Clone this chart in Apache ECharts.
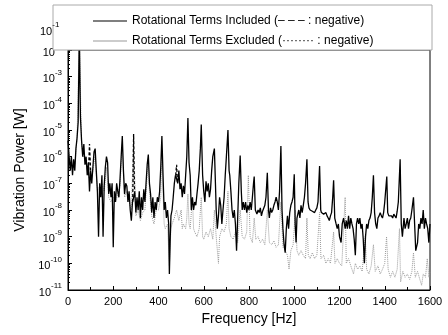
<!DOCTYPE html>
<html>
<head>
<meta charset="utf-8">
<script src="https://cdn.jsdelivr.net/npm/echarts@6/dist/echarts.min.js"></script>
<style>
  html, body { margin: 0; padding: 0; background: #fff; }
  #chart { width: 448px; height: 335px; }
</style>
</head>
<body>
<div id="chart"></div>
<script>
// rotational terms included (black)
const incFreq = [0, 5, 10, 15, 20, 25, 30, 35, 40, 45, 50, 55, 60, 65, 70, 75, 80, 85, 90, 95,
  100, 105, 110, 115, 120, 125, 130, 135, 140, 145, 150, 155, 160, 165, 170, 175, 180, 185, 190, 195,
  200, 205, 210, 215, 220, 225, 230, 235, 240, 245, 250, 255, 260, 265, 270, 275, 280, 285, 290, 295,
  300, 305, 310, 315, 320, 325, 330, 335, 340, 345, 350, 355, 360, 365, 370, 375, 380, 385, 390, 395,
  400, 405, 410, 415, 420, 425, 430, 435, 440, 445, 448, 452, 455, 460, 465, 470, 475, 480, 485, 490,
  495, 500, 505, 510, 515, 520, 525, 530, 535, 540, 545, 550, 555, 560, 565, 570, 575, 580, 585, 589,
  595, 600, 605, 610, 615, 620, 625, 630, 635, 640, 647, 652, 655, 660, 665, 670, 675, 680, 685, 690,
  695, 700, 707, 712, 715, 720, 725, 730, 735, 740, 745, 750, 755, 761, 766, 770, 775, 780, 785, 790,
  795, 800, 805, 810, 815, 820, 823, 828, 835, 840, 845, 850, 855, 860, 865, 870, 875, 881, 886, 890,
  895, 900, 905, 910, 915, 920, 925, 930, 935, 941, 946, 950, 955, 960, 965, 970, 975, 980, 985, 990,
  995, 1000, 1004, 1008, 1012, 1020, 1025, 1030, 1035, 1040, 1045, 1050, 1056, 1061, 1065, 1070, 1075, 1080, 1085, 1090,
  1095, 1100, 1105, 1112, 1117, 1120, 1125, 1130, 1135, 1140, 1145, 1150, 1155, 1160, 1165, 1170, 1174, 1179, 1185, 1190,
  1195, 1200, 1207, 1212, 1218, 1225, 1230, 1235, 1240, 1245, 1250, 1255, 1260, 1265, 1270, 1275, 1280, 1285, 1290, 1295,
  1300, 1305, 1310, 1315, 1320, 1325, 1330, 1335, 1340, 1345, 1350, 1355, 1360, 1365, 1370, 1375, 1380, 1385, 1390, 1395,
  1400, 1409, 1413, 1418, 1425, 1430, 1435, 1440, 1445, 1450, 1455, 1460, 1468, 1473, 1478, 1485, 1490, 1495, 1500, 1505,
  1510, 1515, 1520, 1527, 1532, 1537, 1545, 1550, 1555, 1560, 1565, 1570, 1575, 1580, 1585, 1590, 1595, 1600]
const incPower = [4e-6, 1e-6, 3e-7, 1e-6, 2e-7, 8e-7, 3e-7, 2e-6, 5e-6, 2e-5, 5e-2, 3e-5, 4e-6, 1e-6, 3e-6, 5e-7, 1e-6, 2e-7, 6e-7, 5e-8,
  3e-7, 1e-7, 4e-7, 1.5e-6, 2e-6, 3e-7, 5e-8, 1e-9, 1e-7, 3e-8, 2e-7, 1e-9, 8e-8, 4e-7, 1e-6, 6e-7, 4e-8, 1e-7, 3e-8, 1e-7,
  4e-10, 5e-8, 2e-8, 1e-7, 5e-8, 3e-8, 1.5e-7, 1e-6, 6e-6, 3e-7, 4e-8, 1e-7, 8e-8, 2e-8, 5e-8, 1e-8, 4e-9, 2e-8, 3e-8, 5e-8,
  8e-9, 3e-8, 1e-8, 5e-8, 5e-9, 3e-8, 1e-8, 6e-8, 2e-8, 1e-7, 5e-7, 1.2e-6, 1e-7, 4e-8, 8e-9, 3e-8, 5e-9, 2e-8, 1e-8, 3e-8,
  2e-8, 5e-8, 4e-7, 6e-6, 2e-7, 1e-8, 2e-8, 5e-9, 1e-8, 3e-9, 4e-11, 1e-9, 6e-9, 1e-8, 3e-8, 1e-7, 2e-7, 1.5e-7, 1e-7, 3e-7,
  6e-8, 1e-7, 3e-8, 8e-8, 4e-8, 2e-7, 1e-6, 2.8e-5, 6e-7, 2e-7, 1e-8, 3e-8, 1e-8, 2e-8, 1.5e-8, 4e-8, 1e-7, 3e-7, 2e-6, 1.6e-5,
  2e-7, 5e-8, 2e-8, 1.2e-7, 5e-8, 1e-7, 3e-8, 6e-8, 3e-7, 1e-6, 2e-6, 8e-8, 1e-8, 2e-9, 6e-9, 3e-8, 1.5e-8, 3e-9, 1e-8, 3e-8,
  2e-7, 1e-6, 1e-5, 3e-7, 2e-7, 5e-8, 1e-8, 5e-9, 1e-8, 3e-9, 3e-10, 5e-9, 1e-7, 1.1e-6, 5e-8, 1e-8, 2e-8, 1e-8, 2e-8, 8e-9,
  1.5e-8, 1e-8, 2e-8, 1e-8, 3e-8, 1e-7, 1.8e-7, 1e-8, 7e-9, 1e-8, 8e-9, 1.2e-8, 6e-9, 9e-9, 1e-8, 1.5e-8, 3e-8, 2.5e-7, 1e-8, 5e-9,
  1.2e-8, 8e-9, 1e-8, 1.5e-8, 2e-8, 3e-8, 2e-8, 1e-8, 5e-8, 2.5e-6, 1e-8, 2e-9, 5e-10, 2.5e-10, 2e-9, 6e-9, 2e-9, 8e-9, 1.5e-8, 2e-8,
  3e-8, 2.2e-7, 3e-9, 6e-10, 5e-9, 1e-8, 5e-9, 1.5e-8, 8e-9, 1.5e-8, 3e-8, 1e-7, 8e-7, 2e-8, 1.2e-8, 1e-8, 9e-9, 9e-9, 1e-8, 8e-9,
  1e-8, 1.2e-8, 2e-8, 4.5e-7, 1e-8, 8e-9, 9e-9, 7e-9, 6e-9, 8e-9, 6e-9, 5e-9, 4e-9, 6e-9, 8e-9, 3e-8, 1.3e-7, 5e-9, 3e-9, 2e-9,
  3e-9, 1e-9, 6e-10, 3e-9, 5e-9, 2e-9, 4e-9, 2e-9, 6e-9, 2e-9, 5e-9, 3e-9, 2e-9, 8e-10, 2e-10, 3e-9, 5e-9, 3e-9, 5e-9, 2e-9,
  3e-9, 8e-10, 1e-10, 1e-9, 3e-9, 2e-9, 4e-9, 5e-9, 8e-9, 3e-8, 2e-7, 8e-9, 3e-9, 2e-9, 5e-9, 6e-9, 8e-9, 6e-9, 5e-9, 8e-9,
  2e-8, 1.8e-7, 8e-9, 6e-9, 7e-9, 6e-9, 5e-9, 7e-9, 8e-9, 5e-9, 9e-9, 2e-8, 8e-7, 3e-9, 1e-9, 5e-9, 2e-9, 3e-9, 5e-9, 2e-9,
  4e-9, 5e-9, 1e-8, 3e-8, 3e-9, 3e-10, 6e-10, 3e-9, 2e-9, 5e-9, 3e-9, 1e-8, 2e-9, 5e-9, 3e-9, 2e-9, 6e-10, 3e-9]

// negative parts of the included curve (dashed), '-' breaks the line
const incNegFreq = [286, 290, 294, 297, 476, 480, 484, 487, 90, 95, 100]
const incNegPower = [2e-8, 7e-6, 5e-8, '-', 2e-7, 5e-7, 1e-7, '-', 2e-7, 3e-6, 3e-7]

// rotational terms excluded (grey dotted)
const excFreq = [0, 10, 20, 30, 40, 50, 60, 70, 80, 90, 100, 110, 120, 130, 140, 150, 160, 170, 180, 190,
  200, 210, 220, 230, 240, 250, 260, 270, 280, 290, 300, 310, 320, 330, 340, 350, 355, 360, 370, 380,
  390, 400, 410, 415, 420, 425, 430, 440, 448, 455, 460, 470, 480, 490, 500, 505, 510, 520, 525, 530,
  535, 540, 550, 555, 560, 570, 580, 589, 595, 600, 610, 620, 630, 640, 647, 655, 665, 670, 680, 690,
  700, 707, 712, 720, 730, 740, 750, 761, 770, 780, 790, 797, 805, 815, 823, 830, 840, 850, 860, 870,
  881, 890, 900, 910, 920, 930, 941, 950, 960, 970, 977, 985, 995, 1005, 1012, 1020, 1030, 1040, 1050, 1056,
  1062, 1070, 1080, 1090, 1100, 1112, 1118, 1130, 1140, 1150, 1160, 1174, 1180, 1190, 1200, 1210, 1225, 1230, 1240, 1250,
  1262, 1270, 1280, 1290, 1300, 1314, 1320, 1330, 1340, 1350, 1358, 1370, 1380, 1390, 1400, 1408, 1415, 1425, 1435, 1445,
  1455, 1465, 1470, 1480, 1490, 1500, 1510, 1520, 1527, 1535, 1545, 1555, 1563, 1570, 1580, 1588, 1595, 1600]
const excPower = [3e-6, 5e-7, 3e-7, 5e-7, 5e-6, 3e-2, 3e-6, 1e-6, 5e-7, 2e-7, 1e-7, 3e-7, 1e-6, 5e-8, 8e-8, 1e-7, 5e-8, 4e-7, 3e-8, 2e-8,
  3e-8, 2e-8, 4e-8, 8e-8, 3e-6, 3e-8, 5e-8, 2e-8, 1e-8, 5e-6, 6e-9, 1e-8, 4e-9, 8e-9, 1e-8, 2e-7, 8e-7, 5e-8, 6e-9, 3e-9,
  1e-8, 1e-8, 3e-8, 2e-6, 5e-8, 3e-9, 2e-9, 3e-9, 8e-11, 2e-9, 3e-9, 5e-9, 1e-8, 4e-9, 1e-8, 2e-9, 3e-9, 2e-9, 5e-9, 4e-8,
  3e-9, 2e-9, 3e-8, 2e-9, 1.5e-9, 1e-9, 2e-9, 3e-8, 1e-9, 8e-10, 1.5e-9, 1e-9, 2e-9, 8e-10, 1e-8, 1e-9, 1e-10, 1e-9, 2e-9, 1.5e-9,
  3e-9, 5e-8, 2e-9, 1e-9, 8e-10, 1.5e-9, 6e-10, 1e-8, 1e-9, 8e-10, 1.5e-9, 2e-7, 1e-9, 6e-10, 5e-9, 8e-10, 1e-9, 6e-10, 8e-10, 5e-10,
  1e-8, 6e-10, 5e-10, 7e-10, 4e-10, 5e-10, 2e-8, 4e-10, 3e-10, 2e-10, 6e-11, 3e-10, 5e-10, 1e-8, 3e-10, 2e-10, 3e-10, 2e-10, 1.5e-10, 5e-9,
  2e-10, 1.5e-10, 2.5e-10, 1.5e-10, 2e-10, 8e-9, 1.5e-10, 2e-10, 1e-10, 1.5e-10, 1e-10, 1.5e-9, 1e-10, 1.5e-10, 1e-10, 8e-11, 3e-8, 1e-10, 1.5e-10, 8e-11,
  4e-11, 1e-10, 6e-11, 8e-11, 5e-11, 1e-9, 6e-11, 4e-11, 8e-11, 5e-10, 5e-11, 8e-11, 4e-11, 6e-11, 1e-10, 1e-9, 6e-11, 3e-11, 5e-11, 3e-11,
  6e-11, 2e-9, 2e-11, 5e-11, 3e-11, 4e-11, 2.5e-11, 5e-11, 2.5e-10, 3e-11, 5e-11, 2.5e-11, 1.5e-11, 4e-11, 3e-11, 1.5e-10, 3e-11, 5e-11]

const xTicks = [0, 200, 400, 600, 800, 1000, 1200, 1400, 1600]
const incName = 'Rotational Terms Included (– – – : negative)'
const excName = 'Rotational Terms Excluded (········ : negative)'

const font = 'Liberation Sans, Arial, sans-serif'

function pairs (xs, ys) {
  return xs.map((x, i) => [x, ys[i]])
}

function powLabel (v) {
  const e = Math.round(Math.log10(v))
  if (Math.abs(Math.log10(v) - e) > 1e-6) return ''
  return '{b|10}{s|' + e + '}'
}

const rich = {
  b: { fontSize: 11, fontFamily: font, color: '#000', lineHeight: 16, verticalAlign: 'bottom' },
  s: { fontSize: 8, fontFamily: font, color: '#000', lineHeight: 16, verticalAlign: 'top', padding: [0, 0, 6, 0] }
}

const chart = echarts.init(document.getElementById('chart'), null, { renderer: 'canvas' })
chart.setOption({
  animation: false,
  backgroundColor: '#fff',
  grid: { left: 68, right: 18, top: 50, bottom: 45, show: true, borderColor: '#000', borderWidth: 1 },
  xAxis: {
    type: 'value',
    min: xTicks[0],
    max: xTicks[xTicks.length - 1],
    interval: 200,
    name: 'Frequency [Hz]',
    nameLocation: 'middle',
    nameGap: 22,
    nameTextStyle: { fontFamily: font, fontSize: 14, color: '#000' },
    axisLine: { lineStyle: { color: '#000', width: 1 } },
    axisTick: { inside: true, length: 4, lineStyle: { color: '#000' } },
    minorTick: { show: true, splitNumber: 2, length: 3, lineStyle: { color: '#000' } },
    axisLabel: { fontFamily: font, fontSize: 11, color: '#000', margin: 6, formatter: v => String(v) },
    splitLine: { show: false }
  },
  yAxis: {
    type: 'log',
    logBase: 10,
    min: 1e-11,
    max: 1e-2,
    splitNumber: 9,
    name: 'Vibration Power [W]',
    nameLocation: 'middle',
    nameGap: 40,
    nameTextStyle: { fontFamily: font, fontSize: 14, color: '#000' },
    axisLine: { show: true, lineStyle: { color: '#000', width: 1 } },
    axisTick: { inside: true, length: 4, lineStyle: { color: '#000' } },
    minorTick: { show: true, splitNumber: 9, length: 2, lineStyle: { color: '#000' } },
    axisLabel: { formatter: powLabel, rich: rich, margin: 6 },
    splitLine: { show: false }
  },
  legend: {
    data: [incName, excName],
    orient: 'vertical',
    left: 88,
    top: 10,
    icon: 'rect',
    itemWidth: 34,
    itemHeight: 1,
    itemGap: 8,
    textStyle: { fontFamily: font, fontSize: 12, color: '#000' },
    z: 20
  },
  graphic: [
    {
      type: 'rect',
      shape: { x: 53, y: 5, width: 379, height: 45 },
      style: { fill: '#fff', stroke: '#aaa', lineWidth: 1 },
      z: 10
    },
    {
      type: 'text',
      x: 40,
      y: 21,
      style: { text: '{b|10}{s|-1}', rich: rich },
      z: 11
    }
  ],
  series: [
    {
      name: excName,
      type: 'line',
      data: pairs(excFreq, excPower),
      showSymbol: false,
      symbol: 'none',
      lineStyle: { color: '#9a9a9a', width: 1, type: 'dotted' },
      itemStyle: { color: '#9a9a9a' },
      z: 2
    },
    {
      name: incName,
      type: 'line',
      data: pairs(incFreq, incPower),
      showSymbol: false,
      symbol: 'none',
      lineStyle: { color: '#000', width: 1.3 },
      itemStyle: { color: '#000' },
      z: 3
    },
    {
      name: 'negative',
      type: 'line',
      data: pairs(incNegFreq, incNegPower),
      showSymbol: false,
      symbol: 'none',
      connectNulls: false,
      lineStyle: { color: '#000', width: 1.3, type: [3, 2] },
      itemStyle: { color: '#000' },
      z: 3
    }
  ]
})
</script>
</body>
</html>
